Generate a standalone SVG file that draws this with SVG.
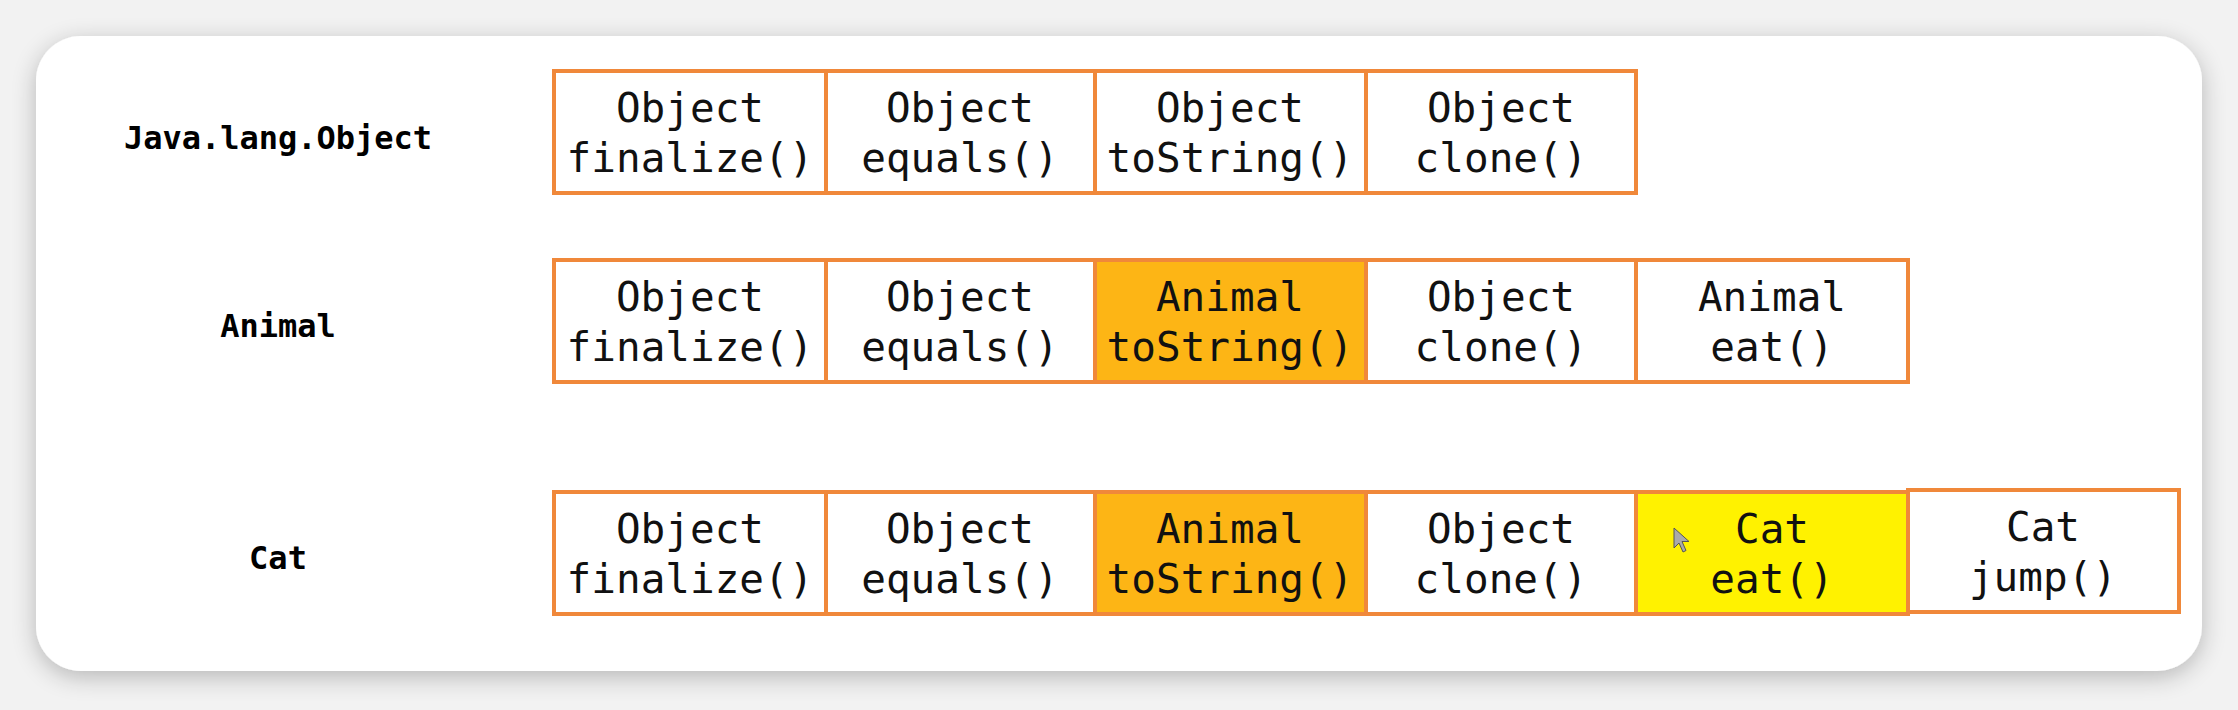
<svg xmlns="http://www.w3.org/2000/svg" width="2238" height="710" viewBox="0 0 2238 710">
<defs>
<filter id="sh" x="-5%" y="-10%" width="110%" height="125%">
<feGaussianBlur in="SourceAlpha" stdDeviation="12"/>
<feOffset dy="6"/>
<feComponentTransfer><feFuncA type="linear" slope="0.25"/></feComponentTransfer>
<feMerge><feMergeNode/><feMergeNode in="SourceGraphic"/></feMerge>
</filter>
</defs>
<style>
.cell{stroke:#F0883A;stroke-width:4;fill:#fff}
.org{fill:#FDB515}
.yel{fill:#FFF200}
.t{font-family:"DejaVu Sans Mono","Liberation Mono",monospace;font-size:41px;fill:#111;text-anchor:middle}
.lbl{font-family:"DejaVu Sans Mono","Liberation Mono",monospace;font-size:32px;font-weight:bold;fill:#000;text-anchor:middle}
</style>
<rect x="0" y="0" width="2238" height="710" fill="#f2f2f2"/>
<rect x="36" y="36" width="2166" height="635" rx="45" fill="#fff" filter="url(#sh)"/>

<g id="label-object"><text class="lbl" x="278" y="149">Java.lang.Object</text></g>
<g id="label-animal"><text class="lbl" x="278" y="337">Animal</text></g>
<g id="label-cat"><text class="lbl" x="278" y="569">Cat</text></g>

<g id="row-object">
<g id="o1"><rect class="cell" x="554" y="71" width="272" height="122"/><text class="t" x="690" y="122">Object</text><text class="t" x="690" y="172">finalize()</text></g>
<g id="o2"><rect class="cell" x="826" y="71" width="269" height="122"/><text class="t" x="960" y="122">Object</text><text class="t" x="960" y="172">equals()</text></g>
<g id="o3"><rect class="cell" x="1095" y="71" width="271" height="122"/><text class="t" x="1230" y="122">Object</text><text class="t" x="1230" y="172">toString()</text></g>
<g id="o4"><rect class="cell" x="1366" y="71" width="270" height="122"/><text class="t" x="1501" y="122">Object</text><text class="t" x="1501" y="172">clone()</text></g>
</g>

<g id="row-animal">
<g id="a1"><rect class="cell" x="554" y="260" width="272" height="122"/><text class="t" x="690" y="311">Object</text><text class="t" x="690" y="361">finalize()</text></g>
<g id="a2"><rect class="cell" x="826" y="260" width="269" height="122"/><text class="t" x="960" y="311">Object</text><text class="t" x="960" y="361">equals()</text></g>
<g id="a3"><rect class="cell org" x="1095" y="260" width="271" height="122"/><text class="t" x="1230" y="311">Animal</text><text class="t" x="1230" y="361">toString()</text></g>
<g id="a4"><rect class="cell" x="1366" y="260" width="270" height="122"/><text class="t" x="1501" y="311">Object</text><text class="t" x="1501" y="361">clone()</text></g>
<g id="a5"><rect class="cell" x="1636" y="260" width="272" height="122"/><text class="t" x="1772" y="311">Animal</text><text class="t" x="1772" y="361">eat()</text></g>
</g>

<g id="row-cat">
<g id="c1"><rect class="cell" x="554" y="492" width="272" height="122"/><text class="t" x="690" y="543">Object</text><text class="t" x="690" y="593">finalize()</text></g>
<g id="c2"><rect class="cell" x="826" y="492" width="269" height="122"/><text class="t" x="960" y="543">Object</text><text class="t" x="960" y="593">equals()</text></g>
<g id="c3"><rect class="cell org" x="1095" y="492" width="271" height="122"/><text class="t" x="1230" y="543">Animal</text><text class="t" x="1230" y="593">toString()</text></g>
<g id="c4"><rect class="cell" x="1366" y="492" width="270" height="122"/><text class="t" x="1501" y="543">Object</text><text class="t" x="1501" y="593">clone()</text></g>
<g id="c5"><rect class="cell yel" x="1636" y="492" width="272" height="122"/><text class="t" x="1772" y="543">Cat</text><text class="t" x="1772" y="593">eat()</text></g>
<g id="c6"><rect class="cell" x="1908" y="490" width="271" height="122"/><text class="t" x="2043" y="541">Cat</text><text class="t" x="2043" y="591">jump()</text></g>
</g>
<path d="M1674,528 l0,20 l5,-5 l4,9 l3,-1.5 l-4,-9 l7,0 z" fill="#aaa" stroke="#555" stroke-width="1"/>
</svg>
